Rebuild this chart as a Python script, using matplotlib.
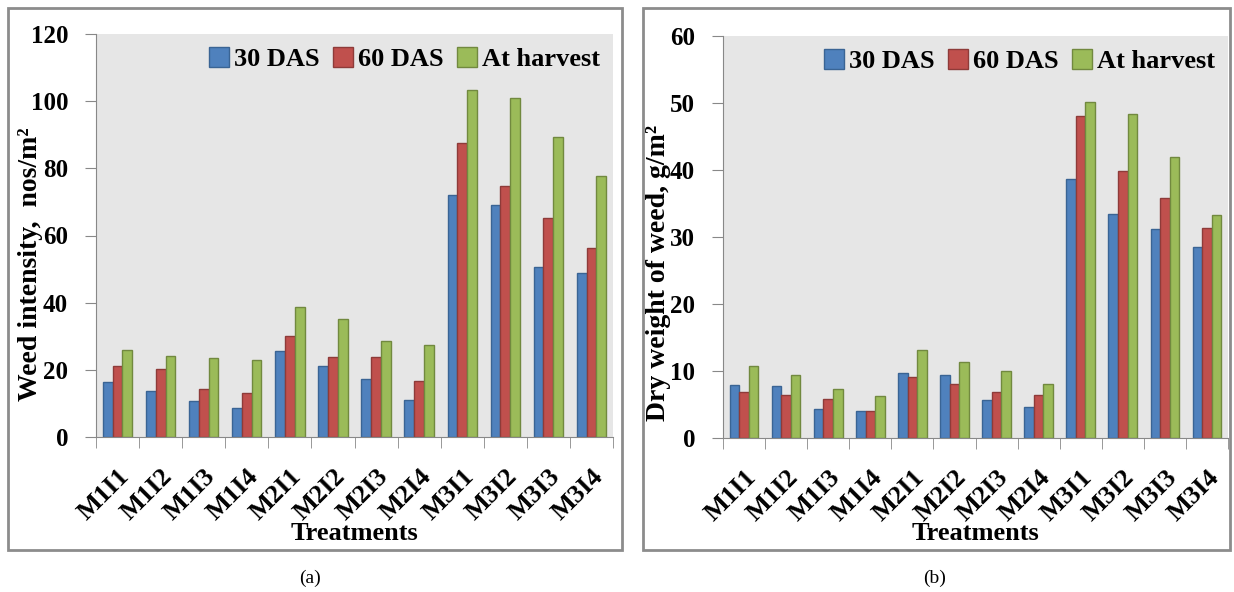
import numpy as np
import matplotlib
matplotlib.use("Agg")
import matplotlib.pyplot as plt
from matplotlib.patches import Rectangle

plt.rcParams['font.family'] = ['Liberation Serif', 'DejaVu Serif']
plt.rcParams['font.weight'] = 'bold'

treatments = ['M1I1', 'M1I2', 'M1I3', 'M1I4', 'M2I1', 'M2I2', 'M2I3', 'M2I4',
              'M3I1', 'M3I2', 'M3I3', 'M3I4']
series = ['30 DAS', '60 DAS', 'At harvest']

# (a) weed intensity, nos/m2
wi_30 = [16.5, 13.8, 10.7, 8.5, 25.5, 21.0, 17.2, 11.0, 72.0, 69.0, 50.5, 48.8]
wi_60 = [21.0, 20.2, 14.2, 13.0, 30.2, 23.7, 23.7, 16.8, 87.5, 74.7, 65.2, 56.3]
wi_hv = [25.9, 24.0, 23.6, 22.8, 38.8, 35.1, 28.5, 27.4, 103.4, 100.8, 89.4, 77.6]

# (b) dry weight of weed, g/m2
dw_30 = [7.9, 7.7, 4.3, 4.1, 9.7, 9.4, 5.6, 4.6, 38.7, 33.5, 31.2, 28.5]
dw_60 = [6.8, 6.4, 5.8, 4.1, 9.1, 8.1, 6.9, 6.4, 48.1, 39.8, 35.8, 31.4]
dw_hv = [10.8, 9.4, 7.3, 6.2, 13.1, 11.3, 10.0, 8.1, 50.2, 48.4, 41.9, 33.3]

colors = ['#4F81BD', '#C0504D', '#9BBB59']
edges = ['#3A6494', '#8E3B39', '#71893F']

fig = plt.figure(figsize=(12.34, 5.92), dpi=100)

# panel frames
for x0, x1 in [(8, 622), (643, 1230)]:
    fig.patches.append(Rectangle((x0 / 1234, 1 - 550 / 592), (x1 - x0) / 1234, 542 / 592,
                                 transform=fig.transFigure, fill=False,
                                 edgecolor='#8c8c8c', linewidth=2))


def panel(rect, data, ymax, ystep, ylabel, yl_pos, xl_y):
    ax = fig.add_axes(rect)
    ax.set_facecolor('#E6E6E6')
    x = np.arange(len(treatments))
    w = 0.227
    for i, vals in enumerate(data):
        ax.bar(x + (i - 1) * w, vals, width=w, color=colors[i], edgecolor=edges[i],
               linewidth=1.0, label=series[i])
    ax.set_xlim(-0.5, len(treatments) - 0.5)
    ax.set_ylim(0, ymax)
    ax.set_yticks(np.arange(0, ymax + 1, ystep))
    ax.set_xticks(x)
    ax.set_xticklabels(treatments, rotation=45, ha='right', va='top',
                       rotation_mode='anchor', fontsize=19, fontweight='bold')
    ax.set_xticks(np.arange(-0.5, len(treatments), 1), minor=True)
    ax.tick_params(axis='x', which='major', length=0, pad=20)
    ax.tick_params(axis='x', which='minor', length=8, color='#888888')
    ax.tick_params(axis='y', length=8, color='#888888', labelsize=18, pad=12)
    for t in ax.get_yticklabels():
        t.set_fontweight('bold')
    for s in ['top', 'right']:
        ax.spines[s].set_visible(False)
    for s in ['left', 'bottom']:
        ax.spines[s].set_color('#888888')
    ax.set_ylabel(ylabel, fontsize=20, fontweight='bold')
    ax.yaxis.set_label_coords(*yl_pos)
    ax.set_xlabel('Treatments', fontsize=19, fontweight='bold')
    ax.xaxis.set_label_coords(0.5, xl_y)
    ax.legend(loc='upper right', frameon=False, ncol=3,
              handlelength=0.75, handleheight=0.75, handletextpad=0.2,
              columnspacing=0.5, borderaxespad=0.2, borderpad=0.3,
              prop={'weight': 'bold', 'size': 19})
    return ax


panel([96 / 1234, 1 - 437 / 592, 517 / 1234, 403 / 592],
      [wi_30, wi_60, wi_hv], 120, 20, 'Weed intensity,  nos/m²', (-0.103, 0.43), -0.21)
panel([723 / 1234, 1 - 438 / 592, 505 / 1234, 402 / 592],
      [dw_30, dw_60, dw_hv], 60, 10, 'Dry weight of weed, g/m²', (-0.102, 0.41), -0.21)

fig.text(310 / 1234, 1 - 578 / 592, '(a)', ha='center', va='center',
         fontsize=14, fontweight='normal')
fig.text(935 / 1234, 1 - 578 / 592, '(b)', ha='center', va='center',
         fontsize=14, fontweight='normal')

fig.savefig('out.png', dpi=100)
